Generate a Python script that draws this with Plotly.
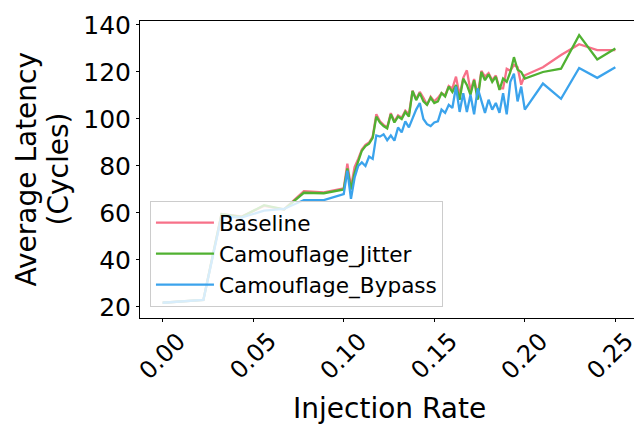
import plotly.graph_objects as go

# Injection rates (sparse low range, dense middle, sparse high range)
x_low = [0.000, 0.0225, 0.0325, 0.0435, 0.056, 0.067, 0.078, 0.089]
x_mid = [round(0.100 + 0.002 * k, 3) for k in range(51)]
x_high = [0.210, 0.220, 0.230, 0.240, 0.250]
injection_rate = x_low + x_mid + x_high

baseline = (
    [21.8, 23.0, 59.5, 58.5, 63.0, 61.5, 69.3, 68.8]
    + [70.5, 81.0, 71.0, 79.5, 83.0, 87.0, 89.0, 90.0, 92.5, 102.0,
       99.0, 97.5, 96.5, 102.5, 99.0, 101.5, 100.5, 103.5, 102.0, 112.0,
       108.5, 111.5, 109.0, 106.0, 109.5, 107.5, 109.0, 111.0, 110.0, 114.0,
       113.0, 118.0, 110.0, 117.5, 120.7, 112.0, 117.0, 110.0, 120.5, 118.0,
       119.5, 116.5, 118.5, 113.0, 113.0, 121.4, 120.5, 123.0, 122.0, 114.6,
       118.6]
    + [122.0, 127.2, 131.8, 129.3, 129.3]
)

camouflage_jitter = (
    [21.8, 23.0, 59.5, 58.3, 63.3, 61.5, 68.6, 68.4]
    + [70.0, 79.0, 70.0, 77.0, 82.0, 86.5, 88.5, 89.5, 92.0, 101.0,
       98.5, 97.0, 96.0, 102.0, 98.5, 101.0, 100.0, 103.0, 101.0, 112.0,
       108.0, 111.0, 107.5, 106.0, 109.0, 106.8, 107.5, 111.0, 109.6, 113.8,
       111.5, 114.5, 108.2, 117.2, 114.5, 110.3, 116.5, 108.2, 120.0, 116.5,
       119.0, 115.8, 118.0, 112.4, 117.2, 115.8, 120.0, 126.3, 121.0, 120.0,
       117.2]
    + [120.0, 121.4, 135.7, 125.3, 130.0]
)

camouflage_bypass = (
    [21.8, 23.0, 58.5, 58.0, 61.0, 61.7, 65.5, 65.5]
    + [68.0, 78.0, 66.0, 75.0, 80.0, 81.5, 80.0, 84.0, 83.0, 93.0,
       92.5, 93.5, 91.0, 93.0, 90.8, 96.4, 94.3, 99.0, 96.4, 100.5,
       104.0, 106.8, 100.0, 97.8, 97.0, 98.5, 99.0, 104.0, 102.6, 106.0,
       104.7, 113.8, 103.0, 111.0, 103.0, 110.3, 102.0, 113.0, 108.2, 102.6,
       108.2, 104.0, 106.8, 102.6, 111.0, 102.0, 115.8, 119.3, 107.5, 113.8,
       104.0]
    + [115.1, 108.6, 121.7, 117.5, 122.0]
)

series_names = ["Baseline", "Camouflage_Jitter", "Camouflage_Bypass"]
series_values = [baseline, camouflage_jitter, camouflage_bypass]
series_colors = ["#f77189", "#50b131", "#3ba3ec"]

x_tick_values = [0.00, 0.05, 0.10, 0.15, 0.20, 0.25]
x_tick_labels = ["0.00", "0.05", "0.10", "0.15", "0.20", "0.25"]
y_tick_values = [20, 40, 60, 80, 100, 120, 140]

FONT = "DejaVu Sans"

fig = go.Figure()
for name, vals, col in zip(series_names, series_values, series_colors):
    fig.add_trace(go.Scatter(
        x=injection_rate, y=vals, mode="lines", name=name,
        line=dict(color=col, width=2.3),
    ))

annotations = []
for i, (v, t) in enumerate(zip(x_tick_values, x_tick_labels)):
    annotations.append(dict(
        x=v, xref="x", y=0, yref="paper", text=t, showarrow=False,
        textangle=-45, xanchor="center", yanchor="top", yshift=-7,
        xshift=-5 if i == len(x_tick_values) - 1 else 0,
        font=dict(family=FONT, size=24, color="black"),
    ))
annotations.append(dict(
    x=0.5, xref="paper", y=0, yref="paper", text="Injection Rate",
    showarrow=False, xanchor="center", yanchor="middle", yshift=-90,
    font=dict(family=FONT, size=28, color="black"),
))
annotations.append(dict(
    x=0, xref="paper", y=0.5, yref="paper", text="Average Latency",
    showarrow=False, textangle=-90, xanchor="center", yanchor="middle",
    xshift=-114, font=dict(family=FONT, size=28, color="black"),
))
annotations.append(dict(
    x=0, xref="paper", y=0.5, yref="paper", text="(Cycles)",
    showarrow=False, textangle=-90, xanchor="center", yanchor="middle",
    xshift=-82, font=dict(family=FONT, size=28, color="black"),
))

# page has an 8px body margin, so the figure is 8px smaller and offset
fig.update_layout(
    width=634, height=416,
    margin=dict(l=132, r=3, t=10, b=106),
    paper_bgcolor="white", plot_bgcolor="white",
    font=dict(family=FONT, size=25, color="black"),
    showlegend=True,
    legend=dict(
        x=0.02, y=0.037, xanchor="left", yanchor="bottom",
        bgcolor="rgba(255,255,255,0.8)", bordercolor="#cccccc", borderwidth=1,
        font=dict(family=FONT, size=21.6, color="black"),
        itemwidth=58,
    ),
    annotations=annotations,
)
fig.update_xaxes(
    range=[-0.0125, 0.2625], tickvals=x_tick_values, showticklabels=False,
    ticks="outside", ticklen=3, tickwidth=1, tickcolor="black",
    showline=True, linecolor="black", linewidth=1, mirror=True,
    showgrid=False, zeroline=False,
)
fig.update_yaxes(
    range=[15.3, 141.7], tickvals=y_tick_values,
    ticks="outside", ticklen=3, tickwidth=1, tickcolor="black",
    showline=True, linecolor="black", linewidth=1, mirror=True,
    showgrid=False, zeroline=False, ticklabeloverflow="allow",
    tickfont=dict(family=FONT, size=25, color="black"),
)

fig.write_html("out.html")
